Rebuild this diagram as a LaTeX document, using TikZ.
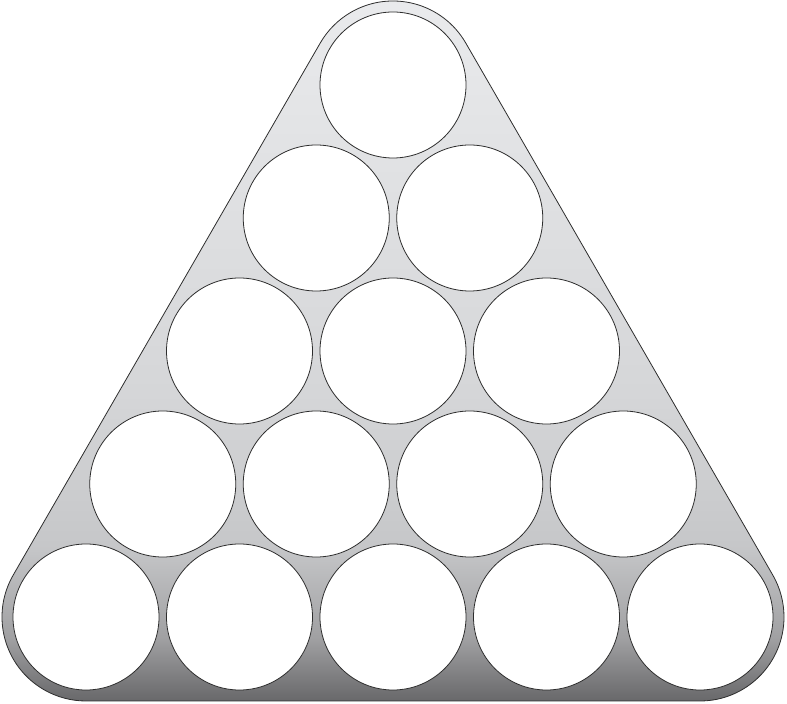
\documentclass[tikz,border=0pt]{standalone}
\usetikzlibrary{calc}
\definecolor{rtop}{RGB}{234,235,237}
\definecolor{rmid}{RGB}{213,214,216}
\definecolor{rlow}{RGB}{198,199,201}
\definecolor{rdark}{RGB}{160,160,162}
\definecolor{rbot}{RGB}{104,104,106}
\definecolor{edge}{RGB}{45,45,45}
\pgfdeclareverticalshading{rack}{100bp}{color(0bp)=(rbot); color(25bp)=(rbot); color(29.4bp)=(rdark); color(35.9bp)=(rlow); color(46.6bp)=(rmid); color(75bp)=(rtop); color(100bp)=(rtop)}
\tikzset{
  ball/.style={circle, draw=edge, line width=0.8pt, fill=white, minimum size=146pt, inner sep=0pt},
  frame/.style={draw=edge, line width=0.8pt, shading=rack}
}
\begin{document}
\begin{tikzpicture}[x=1pt,y=1pt]
\useasboundingbox (0,0) rectangle (787,704);
% corner centres (y measured upward)
\coordinate (T) at (393,619);
\coordinate (L) at (86,87);
\coordinate (R) at (700,87);
\path[frame] ($(L)+(0,-84)$) -- ($(R)+(0,-84)$)
  arc[start angle=-90, end angle=30, radius=84pt]
  -- ($(T)+({84*cos(30)},{84*sin(30)})$)
  arc[start angle=30, end angle=150, radius=84pt]
  -- ($(L)+({84*cos(150)},{84*sin(150)})$)
  arc[start angle=150, end angle=270, radius=84pt] -- cycle;
% balls
\foreach \r in {0,...,4}{
  \foreach \c in {0,...,\r}{
    \node[ball] (b\r\c) at ({393-76.75*\r+153.5*\c},{619-133*\r}) {};
  }
}
\end{tikzpicture}
\end{document}
